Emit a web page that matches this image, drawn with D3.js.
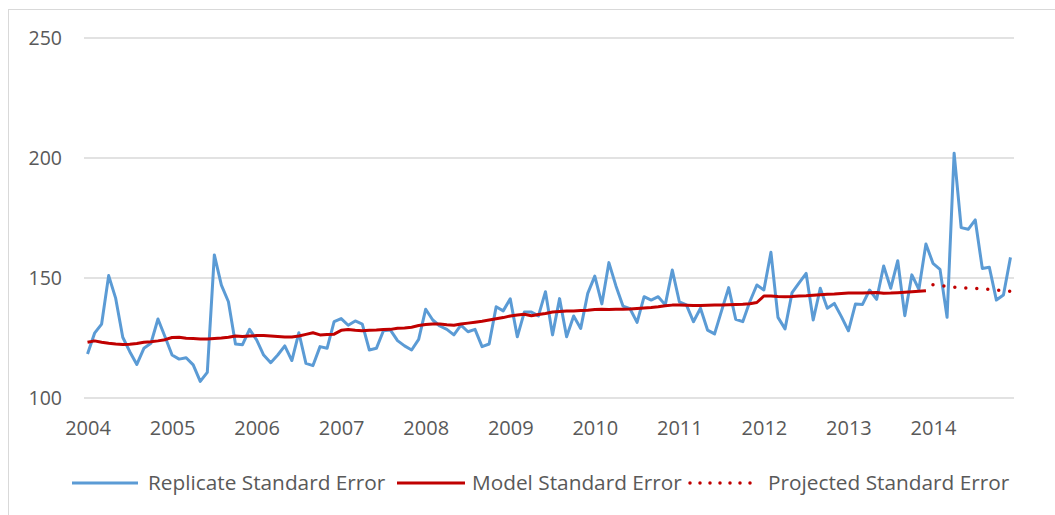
<!DOCTYPE html>
<html>
    <head>
        <meta lang="en-us" charset="utf-8">
        <style>
            body { margin: 0; background: white; }
            text { font-family: "Open Sans", sans-serif; fill: #595959; }
        </style>
    </head>
    <body>
        <div id="d3render"></div>
    </body>
    <script src="https://d3js.org/d3.v7.min.js"></script>
    <script>
        // tick labels
        const years = ['2004', '2005', '2006', '2007', '2008', '2009', '2010', '2011', '2012', '2013', '2014'];
        const yTicks = [100, 150, 200, 250];

        // replicate standard error, monthly Jan 2004 - Dec 2014
        const replicate = [
            118.3, 127.0, 130.8, 151.0, 141.5, 125.3, 119.3, 114.0, 120.7, 122.8, 132.9, 125.5,
            117.9, 116.2, 116.8, 113.8, 106.9, 110.7, 159.6, 147.0, 140.1, 122.5, 122.2, 128.6,
            124.2, 117.9, 114.7, 117.9, 121.7, 115.6, 127.2, 114.4, 113.5, 121.4, 120.7, 131.8,
            133.1, 130.3, 132.1, 130.8, 120.0, 120.7, 128.0, 128.3, 123.9, 121.7, 120.0, 124.4,
            137.0, 132.5, 130.0, 128.6, 126.3, 130.4, 127.6, 128.6, 121.4, 122.5, 138.0, 136.3,
            141.3, 125.5, 135.8, 135.8, 134.2, 144.3, 126.3, 141.4, 125.5, 134.2, 129.0, 143.6,
            150.8, 139.2, 156.4, 146.7, 138.3, 137.2, 131.5, 142.2, 140.8, 142.2, 138.8, 153.3,
            140.1, 138.8, 131.8, 137.4, 128.3, 126.7, 136.4, 146.0, 132.8, 131.8, 140.1, 147.1,
            145.0, 160.7, 133.6, 128.8, 143.9, 148.0, 151.9, 132.5, 145.7, 137.4, 139.4, 133.9,
            128.0, 139.2, 139.0, 145.0, 141.1, 155.0, 145.7, 157.2, 134.3, 151.3, 145.3, 164.2,
            156.1, 153.6, 133.6, 202.0, 171.0, 170.3, 174.2, 154.0, 154.5, 140.8, 142.9, 158.6
        ];

        // model standard error, Jan 2004 - Dec 2013
        const model = [
            123.2, 123.8, 123.2, 122.8, 122.5, 122.3, 122.4, 122.7, 123.2, 123.4, 123.8, 124.3,
            125.2, 125.3, 124.9, 124.8, 124.6, 124.6, 124.8, 125.0, 125.3, 125.8, 125.6, 125.8,
            126.0, 126.0, 125.8, 125.6, 125.4, 125.4, 125.8, 126.5, 127.2, 126.3, 126.5, 126.6,
            128.2, 128.5, 128.2, 128.0, 128.2, 128.3, 128.5, 128.6, 129.1, 129.2, 129.5, 130.2,
            130.6, 130.8, 130.8, 130.5, 130.3, 130.8, 131.2, 131.6, 132.0, 132.5, 133.0, 133.5,
            134.2, 134.6, 134.9, 134.3, 134.8, 135.2, 135.8, 136.0, 136.2, 136.3, 136.5, 136.6,
            136.9, 137.0, 136.9, 137.0, 137.0, 137.1, 137.3, 137.5, 137.7, 138.0, 138.4, 138.7,
            138.7, 138.6, 138.5, 138.5, 138.6, 138.7, 138.8, 138.9, 139.0, 139.1, 139.3, 139.8,
            142.5, 142.5, 142.3, 142.2, 142.3, 142.5, 142.6, 142.8, 143.0, 143.2, 143.3, 143.5,
            143.7, 143.8, 143.8, 143.9, 144.0, 143.6, 143.7, 143.9, 144.1, 144.3, 144.5, 144.7
        ];

        // projected standard error, Jan 2014 - Dec 2014
        const projected = [147.2, 146.8, 146.5, 146.2, 146.0, 145.8, 145.7, 145.5, 145.3, 145.0, 144.7, 144.4];

        const seriesNames = ['Replicate Standard Error', 'Model Standard Error', 'Projected Standard Error'];

        const width = 1055;
        const height = 515;

        const blue = '#5B9BD5';
        const red = '#C00000';

        const months = [];
        years.forEach(y => {
            for (let m = 1; m <= 12; m++) months.push(y + '-' + m);
        });

        const svg = d3.select('#d3render')
            .append('svg')
            .attr('width', width)
            .attr('height', height)
            .style('display', 'block');

        svg.append('rect')
            .attr('x', 8.5)
            .attr('y', 9.5)
            .attr('width', 1200)
            .attr('height', 700)
            .attr('fill', 'white')
            .attr('stroke', '#D9D9D9');

        const x = d3.scalePoint()
            .domain(months)
            .range([84, 1014])
            .padding(0.5);

        const y = d3.scaleLinear()
            .domain([100, 250])
            .range([398, 38]);

        // gridlines
        svg.append('g')
            .selectAll('line')
            .data(yTicks)
            .join('line')
            .attr('x1', 84)
            .attr('x2', 1014)
            .attr('y1', d => y(d))
            .attr('y2', d => y(d))
            .attr('stroke', '#D9D9D9')
            .attr('stroke-width', 1.3);

        // y axis labels
        const yAxis = d3.axisLeft(y).tickValues(yTicks).tickSize(0).tickPadding(0);
        svg.append('g')
            .attr('transform', 'translate(62,0)')
            .call(yAxis)
            .call(g => g.select('.domain').remove())
            .selectAll('text')
            .style('font-size', '19.5px')
            .style('font-family', '"Open Sans", sans-serif')
            .attr('fill', '#595959');

        // x axis labels, one per January
        const xAxis = d3.axisBottom(x)
            .tickValues(years.map(yr => yr + '-1'))
            .tickFormat(d => d.split('-')[0])
            .tickSize(0)
            .tickPadding(0);
        svg.append('g')
            .attr('transform', 'translate(0,421)')
            .call(xAxis)
            .call(g => g.select('.domain').remove())
            .selectAll('text')
            .style('font-size', '20px')
            .style('font-family', '"Open Sans", sans-serif')
            .attr('fill', '#595959');

        const line = d3.line()
            .x(d => x(d[0]))
            .y(d => y(d[1]));

        svg.append('path')
            .datum(replicate.map((v, i) => [months[i], v]))
            .attr('fill', 'none')
            .attr('stroke', blue)
            .attr('stroke-width', 3)
            .attr('stroke-linejoin', 'round')
            .attr('d', line);

        svg.append('path')
            .datum(model.map((v, i) => [months[i], v]))
            .attr('fill', 'none')
            .attr('stroke', red)
            .attr('stroke-width', 3)
            .attr('stroke-linejoin', 'round')
            .attr('d', line);

        svg.append('path')
            .datum(projected.map((v, i) => [months[model.length + i], v]))
            .attr('fill', 'none')
            .attr('stroke', red)
            .attr('stroke-width', 3.5)
            .attr('stroke-linecap', 'round')
            .attr('stroke-dasharray', '0 11')
            .attr('d', line);

        // legend
        const legendItems = [
            { name: seriesNames[0], color: blue, dash: null, x1: 72, x2: 138, tx: 148 },
            { name: seriesNames[1], color: red, dash: null, x1: 397, x2: 465, tx: 472 },
            { name: seriesNames[2], color: red, dash: '0 10', x1: 690, x2: 760, tx: 768 }
        ];

        const legend = svg.append('g').attr('id', 'legend');

        legend.selectAll('line')
            .data(legendItems)
            .join('line')
            .attr('x1', d => d.x1)
            .attr('x2', d => d.x2)
            .attr('y1', 483)
            .attr('y2', 483)
            .attr('stroke', d => d.color)
            .attr('stroke-width', d => d.dash ? 3.5 : 3)
            .attr('stroke-linecap', d => d.dash ? 'round' : 'butt')
            .attr('stroke-dasharray', d => d.dash);

        legend.selectAll('text')
            .data(legendItems)
            .join('text')
            .attr('x', d => d.tx)
            .attr('y', 483)
            .attr('dy', '0.35em')
            .style('font-size', '20.8px')
            .text(d => d.name);
    </script>
</html>
